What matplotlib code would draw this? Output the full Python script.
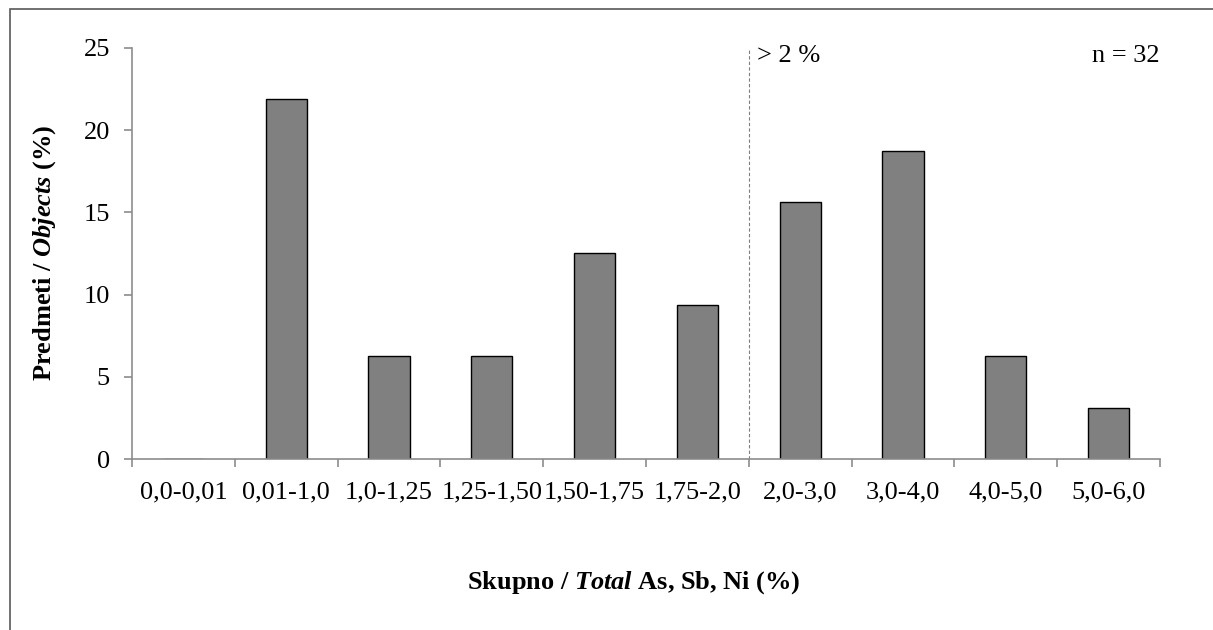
import numpy as np
import matplotlib
matplotlib.use("Agg")
import matplotlib.pyplot as plt
from matplotlib.patches import Rectangle

plt.rcParams['font.family'] = ['Liberation Serif', 'DejaVu Serif']
plt.rcParams['mathtext.fontset'] = 'custom'
plt.rcParams['mathtext.rm'] = 'Liberation Serif:bold'
plt.rcParams['mathtext.it'] = 'Liberation Serif:italic:bold'
plt.rcParams['mathtext.bf'] = 'Liberation Serif:bold'

# razredi in deleži predmetov (n = 32)
razredi = ["0,0-0,01", "0,01-1,0", "1,0-1,25", "1,25-1,50", "1,50-1,75",
           "1,75-2,0", "2,0-3,0", "3,0-4,0", "4,0-5,0", "5,0-6,0"]
stevilo = [0, 7, 2, 2, 4, 3, 5, 6, 2, 1]
n = sum(stevilo)
delez = [100 * s / n for s in stevilo]
meja = 6  # indeks prvega razreda nad 2 %

fs = 19

fig = plt.figure(figsize=(12.13, 6.3), dpi=100)
# okvir okoli slike
fig.patches.append(Rectangle((10 / 1213, -0.05), 1.1, 1 - 9 / 630 + 0.05,
                             transform=fig.transFigure, fill=False,
                             edgecolor='#595959', linewidth=1.2))

ax = fig.add_axes([132 / 1213, 1 - 459 / 630, (1160 - 132) / 1213, (459 - 48) / 630])
x = np.arange(len(razredi))
ax.bar(x, delez, width=0.4, color='#808080', edgecolor='black', linewidth=1.0, zorder=2)

ax.set_xlim(-0.5, len(razredi) - 0.5)
ax.set_ylim(0, 25)
ax.set_yticks(range(0, 26, 5))
ax.set_xticks(x)
ax.set_xticklabels(razredi, fontsize=fs)
ax.tick_params(axis='x', length=0, pad=16)
ax.set_xticks(np.arange(-0.5, len(razredi)), minor=True)
ax.tick_params(axis='x', which='minor', length=6, width=1.2, color='#8c8c8c')
ax.tick_params(axis='y', length=6, width=1.2, color='#8c8c8c', labelsize=fs, pad=10)

for s in ['top', 'right']:
    ax.spines[s].set_visible(False)
for s in ['left', 'bottom']:
    ax.spines[s].set_color('#8c8c8c')
    ax.spines[s].set_linewidth(1.2)
    ax.spines[s].set_zorder(3)

ax.axvline(meja - 0.5, color='#7f7f7f', linestyle=(0, (3, 2)), linewidth=0.8, zorder=1)
ax.text(meja - 0.5 + 0.08, 24.5, "> 2 %", fontsize=fs, ha='left', va='center')
ax.text(len(razredi) - 0.5, 24.5, "n = %d" % n, fontsize=fs, ha='right', va='center')

fig.text(45 / 1213, 1 - 253 / 630, r"Predmeti / $\mathit{Objects}$ (%)", rotation=90,
         fontsize=fs, fontweight='bold', ha='center', va='center')
fig.text(634 / 1213, 1 - 583 / 630, r"Skupno / $\mathit{Total}$ As, Sb, Ni (%)",
         fontsize=fs, fontweight='bold', ha='center', va='center')

fig.savefig("out.png", dpi=100)
